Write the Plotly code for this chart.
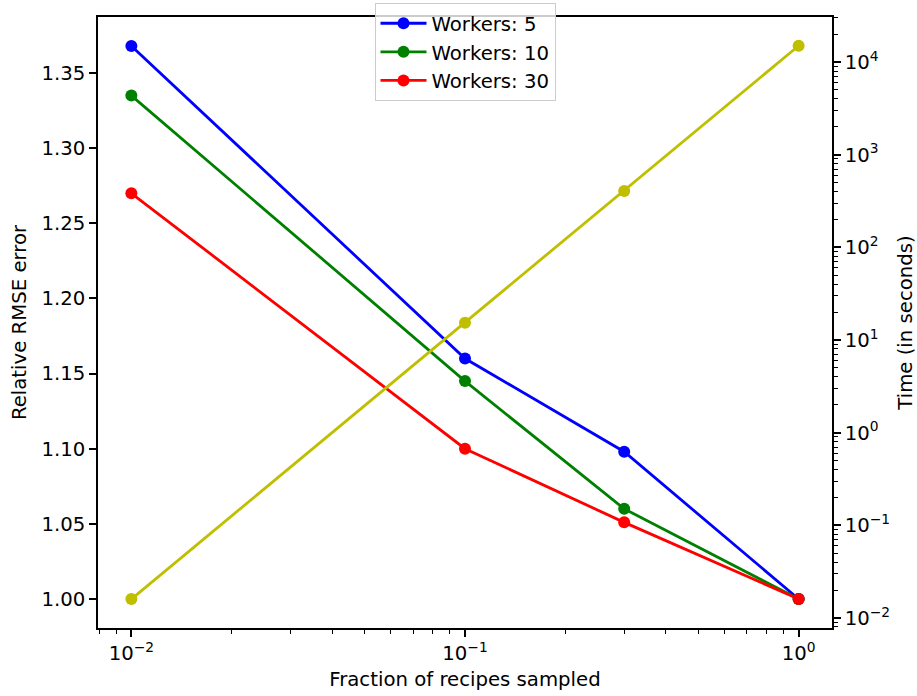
import plotly.graph_objects as go

fractions = [0.01, 0.1, 0.3, 1.0]
rmse_w5 = [1.368, 1.160, 1.098, 1.000]
rmse_w10 = [1.335, 1.145, 1.060, 1.000]
rmse_w30 = [1.270, 1.100, 1.051, 1.000]
time_seconds = [0.016, 15.4, 405, 15000]

series_labels = ["Workers: 5", "Workers: 10", "Workers: 30"]
series_colors = ["#0000ff", "#008000", "#ff0000"]
time_color = "#bfbf00"

x_tickvals = [0.01, 0.1, 1]
x_ticktext = ["10<sup>\u22122</sup>", "10<sup>\u22121</sup>", "10<sup>0</sup>"]
y2_tickvals = [1e-2, 1e-1, 1e0, 1e1, 1e2, 1e3, 1e4]
y2_ticktext = ["10<sup>\u22122</sup>", "10<sup>\u22121</sup>", "10<sup>0</sup>", "10<sup>1</sup>",
               "10<sup>2</sup>", "10<sup>3</sup>", "10<sup>4</sup>"]

x_minor = [m * 10.0 ** e for e in range(-3, 1) for m in range(2, 10)]
y2_minor = [m * 10.0 ** e for e in range(-3, 5) for m in range(2, 10)]

FONT = "DejaVu Sans"
FS = 19.7

fig = go.Figure()
for vals, lab, col in zip([rmse_w5, rmse_w10, rmse_w30], series_labels, series_colors):
    fig.add_trace(go.Scatter(x=fractions, y=vals, mode="lines+markers", name=lab,
                             line=dict(color=col, width=2.8),
                             marker=dict(color=col, size=12), yaxis="y"))
fig.add_trace(go.Scatter(x=fractions, y=time_seconds, mode="lines+markers", name="time",
                         line=dict(color=time_color, width=2.8),
                         marker=dict(color=time_color, size=12), yaxis="y2", showlegend=False))

tickfont = dict(family=FONT, size=FS, color="black")
titlefont = dict(family=FONT, size=FS, color="black")

fig.update_layout(
    width=917, height=696,
    margin=dict(l=98, r=85, t=17, b=68, autoexpand=False),
    plot_bgcolor="white", paper_bgcolor="white",
    font=dict(family=FONT, size=FS, color="black"),
    xaxis=dict(type="log", range=[-2.1, 0.1], tickmode="array", tickvals=x_tickvals,
               ticktext=x_ticktext, ticks="outside", ticklen=7, tickwidth=1.6, tickcolor="black",
               showline=True, linecolor="black", linewidth=1.6, mirror=True, showgrid=False,
               zeroline=False, tickfont=tickfont,
               minor=dict(tickmode="array", tickvals=x_minor, ticks="outside", ticklen=4,
                          tickwidth=1.2, tickcolor="black", showgrid=False),
               title=dict(text="Fraction of recipes sampled", font=titlefont, standoff=8)),
    yaxis=dict(range=[0.9807, 1.3873], tickmode="linear", tick0=1.0, dtick=0.05,
               tickformat=".2f", ticks="outside", ticklen=7, tickwidth=1.6, tickcolor="black",
               showline=True, linecolor="black", linewidth=1.6, showgrid=False, zeroline=False,
               tickfont=tickfont,
               title=dict(text="Relative RMSE error", font=titlefont, standoff=10)),
    yaxis2=dict(type="log", range=[-2.108, 4.486], overlaying="y", side="right",
                tickmode="array", tickvals=y2_tickvals, ticktext=y2_ticktext,
                ticks="outside", ticklen=7, tickwidth=1.6, tickcolor="black",
                showline=True, linecolor="black", linewidth=1.6, showgrid=False, zeroline=False,
                tickfont=tickfont,
                minor=dict(tickmode="array", tickvals=y2_minor, ticks="outside", ticklen=4,
                           tickwidth=1.2, tickcolor="black", showgrid=False),
                title=dict(text="Time (in seconds)", font=titlefont, standoff=13)),
    legend=dict(x=0.5, xanchor="center", y=1.023, yanchor="top", itemwidth=46,
                bgcolor="rgba(255,255,255,0.8)", bordercolor="#cccccc", borderwidth=1,
                font=dict(family=FONT, size=FS, color="black")),
)

fig.write_html("out.html", config={"displayModeBar": False},
               post_script="document.body.style.margin='0';")
